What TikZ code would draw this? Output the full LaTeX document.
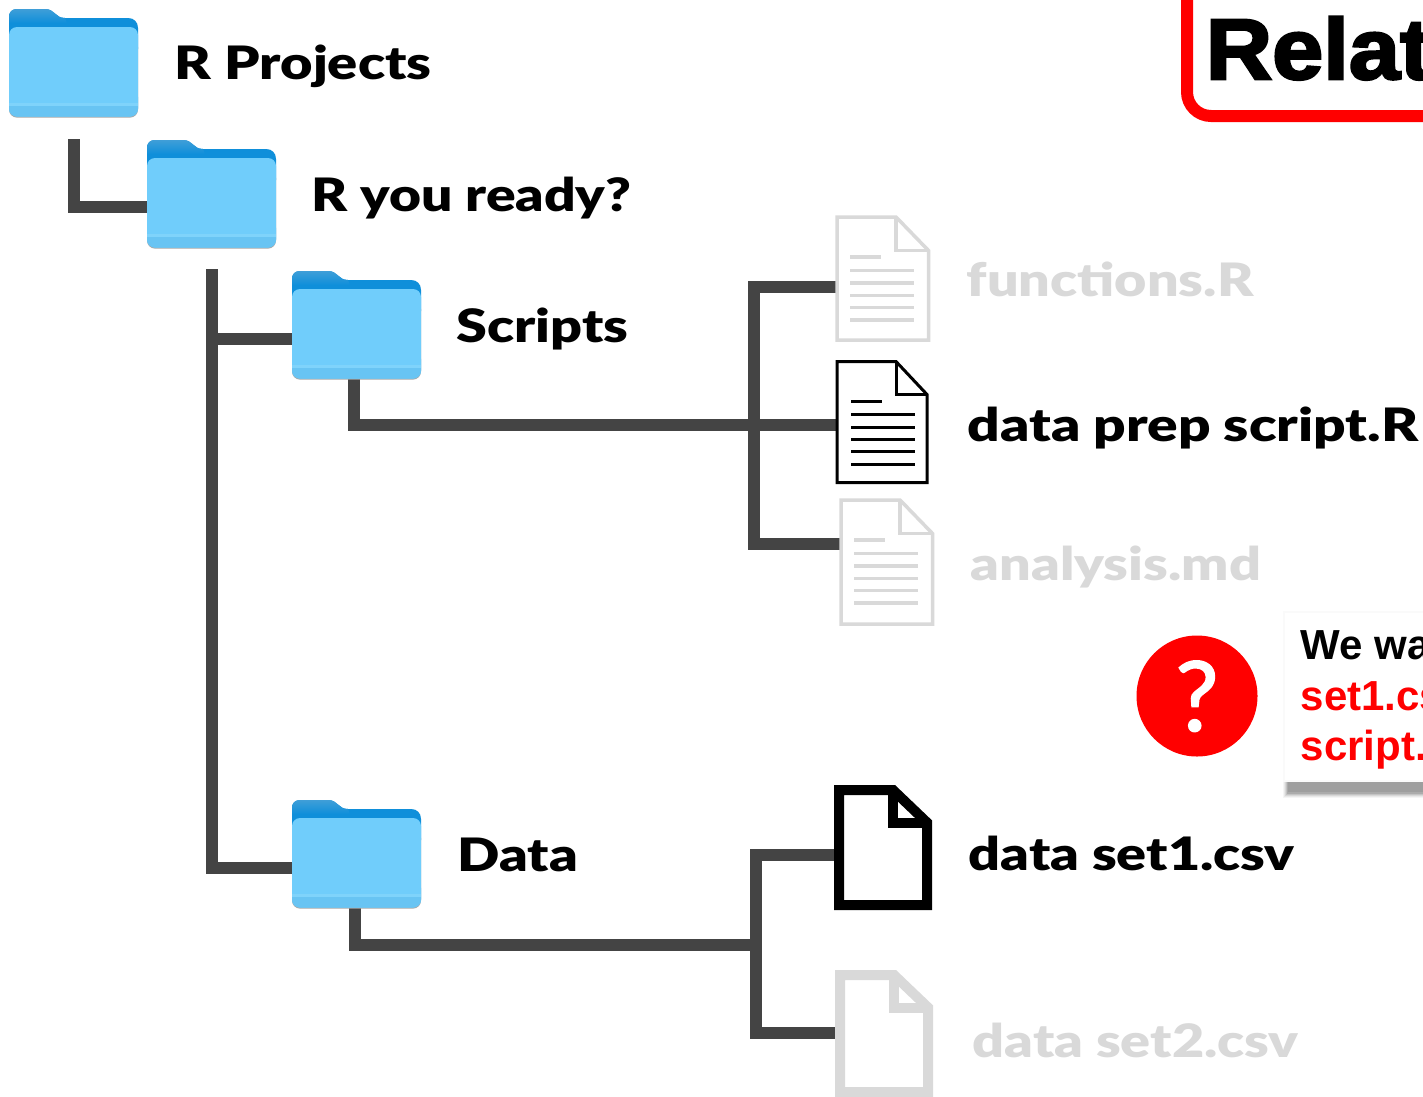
\documentclass[tikz,border=0pt]{standalone}
\usepackage{fontspec}
\setmainfont{Lato Black}[FakeStretch=1.21]
\newfontfamily\helv[BoldFont={Liberation Sans Bold}]{Liberation Sans}
\newfontfamily\relfont{Liberation Sans Bold}[FakeStretch=1.07,FakeBold=3]
\newfontfamily\qfont{Lato}[FakeBold=1.5]
\definecolor{connc}{HTML}{444444}
\definecolor{fadec}{HTML}{D9D9D9}
\definecolor{tabc}{HTML}{3F9ED8}
\definecolor{backc}{HTML}{0F8FDA}
\definecolor{frontc}{HTML}{70CDFB}
\definecolor{bandc}{HTML}{7FD3FB}
\definecolor{lowc}{HTML}{68C4F3}
\definecolor{redc}{HTML}{FF0000}
\tikzset{
  x=1pt,y=-1pt,
  conn/.style={draw=connc,line width=12pt},
  lab/.style={anchor=base west,inner sep=0pt,font=\fontsize{46}{46}\selectfont},
  faded/.style={text=fadec},
  boxtxt/.style={anchor=base west,inner sep=0pt,font=\helv\bfseries\fontsize{42}{42}\selectfont}
}
% folder: name, x, y of the top left corner
\newcommand\folderat[3]{%
  \begin{scope}[shift={(#2,#3)}]
    \fill[black!35,rounded corners=8pt] (0,30) rectangle (129,108.6);
    \fill[backc] (0,20) -- (0,8) .. controls (0,3) and (3,0) .. (8,0) -- (36,0)
      .. controls (46,0) and (46,9) .. (56,9) -- (119,9)
      .. controls (125,9) and (129,13) .. (129,19) -- (129,40) -- (0,40) -- cycle;
    \shade[top color=tabc,bottom color=backc] (0,14) -- (0,8) .. controls (0,3) and (3,0) .. (8,0) -- (36,0)
      .. controls (46,0) and (46,9) .. (56,9) -- (58,14) -- cycle;
    \fill[frontc,rounded corners=8pt] (0,18) rectangle (129,107.6);
    \fill[lowc,rounded corners=8pt] (0,80) rectangle (129,107.6);
    \fill[frontc] (0,80) rectangle (129,94);
    \fill[bandc] (0,94) rectangle (129,97);
    \node[inner sep=0pt,minimum width=129pt,minimum height=108pt,anchor=north west] (#1) at (0,0) {};
  \end{scope}}
% page outline: name, x, y, colour, line width, width, height, fold x, fold y
\newcommand\pageat[9]{%
  \begin{scope}[shift={(#2,#3)}]
    \draw[#4,line width=#5pt,fill=white,miter limit=10]
      (0,0) -- (#8,0) -- (#6,#9) -- (#6,#7) -- (0,#7) -- cycle;
    \draw[#4,line width=#5pt] (#8,0) -- (#8,#9) -- (#6,#9);
    \node[inner sep=0pt,minimum width=#6pt,minimum height=#7pt,anchor=north west] (#1) at (0,0) {};
  \end{scope}}
% rows of text: x, y, colour, line width
\newcommand\textlines[4]{%
  \begin{scope}[shift={(#1,#2)}]
    \foreach \yy/\xx in {0/31,13.5/64,26/64,38.5/64,50.5/64,63/64}
      \draw[#3,line width=#4pt] (0,\yy) -- (\xx,\yy);
  \end{scope}}
\begin{document}
\begin{tikzpicture}
\useasboundingbox (0,0) rectangle (1423,1096);
\clip (0,0) rectangle (1423,1096);
\fill[white] (0,0) rectangle (1423,1096);

% connector ports
\coordinate (c1) at (74,139);
\coordinate (p1) at (150,207);
\coordinate (t0) at (211.5,269);
\coordinate (pS) at (295,339);
\coordinate (pD) at (295,868);
\coordinate (c2) at (354,375);
\coordinate (pPrep) at (838,425);
\coordinate (b0) at (754,287);
\coordinate (pFun) at (838,287);
\coordinate (pAna) at (841,544);
\coordinate (c3) at (355,905);
\coordinate (j2) at (756,945);
\coordinate (d0) at (756,855);
\coordinate (pS1) at (838,855);
\coordinate (pS2) at (838,1033);

% connectors
\draw[conn] (c1) |- (p1);
\draw[conn] (t0) |- (pD);
\draw[conn] (t0 |- pS) -- (pS);
\draw[conn] (c2) |- (pPrep);
\draw[conn] (pFun) -- (b0) |- (pAna);
\draw[conn] (c3) |- (j2);
\draw[conn] (pS1) -- (d0) |- (pS2);

% folders
\folderat{fRoot}{9}{9}
\folderat{fReady}{147}{140}
\folderat{fScripts}{292}{271}
\folderat{fData}{292}{800}

% files
\pageat{dFun}{837}{217}{fadec}{3.5}{91.5}{123}{59}{33.5}
\textlines{850}{257}{fadec}{3.5}
\pageat{dPrep}{837}{361.5}{black}{3}{90}{121}{59}{33}
\textlines{851}{401}{black}{3}
\pageat{dAna}{841}{500}{fadec}{3.5}{91.5}{124}{59}{33.5}
\textlines{854}{540}{fadec}{3.5}
\pageat{dSet1}{839}{790}{black}{10}{88}{115}{54}{32.5}
\pageat{dSet2}{840}{975}{fadec}{10}{88}{117}{54}{32.5}

% labels
\node[lab] (tRoot) at (174.5,79) {\scalebox{1.005}[1]{R Projects}};
\node[lab] (tReady) at (311.5,211) {\scalebox{0.99}[1]{R you ready?}};
\node[lab] (tScripts) at (456.5,342) {Scripts};
\node[lab] (tData) at (457.5,871) {Data};
\node[lab,faded] (tFun) at (966.5,296) {functions.R};
\node[lab] (tPrep) at (967.5,441) {\scalebox{1.02}[1]{data prep script.R}};
\node[lab,faded] (tAna) at (970.5,580) {analysis.md};
\node[lab] (tSet1) at (968.5,870) {data set1.csv};
\node[lab,faded] (tSet2) at (972.5,1057) {data set2.csv};

% top right box
\draw[redc,line width=12pt,rounded corners=24pt] (1187,-40) rectangle (1520,116);
\node[anchor=base west,inner sep=0pt,font=\relfont\fontsize{86}{86}\selectfont] (tRel) at (1205.5,79) {Relat};

% question badge
\node[circle,fill=redc,minimum size=121pt,inner sep=0pt] (qBadge) at (1197,696) {};
\node[anchor=base,inner sep=0pt,text=white,font=\qfont\fontsize{97}{97}\selectfont] (qMark) at (1197,731) {?};

% note
\foreach \d/\o in {5/0.04,4/0.05,3/0.07,2/0.09,1/0.12}
  \fill[black,opacity=\o] (1288-\d,770) rectangle (1440,793+\d);
\fill[black!38] (1288,770) rectangle (1440,792);
\fill[black!2] (1283,611) rectangle (1440,782);
\fill[white] (1285,613) rectangle (1440,780);
\node[boxtxt] (n1) at (1300.5,659) {We wa};
\node[boxtxt,text=redc] (n2) at (1300.5,710) {set1.cs};
\node[boxtxt,text=redc] (n3) at (1300.5,760) {script.};
\end{tikzpicture}
\end{document}
